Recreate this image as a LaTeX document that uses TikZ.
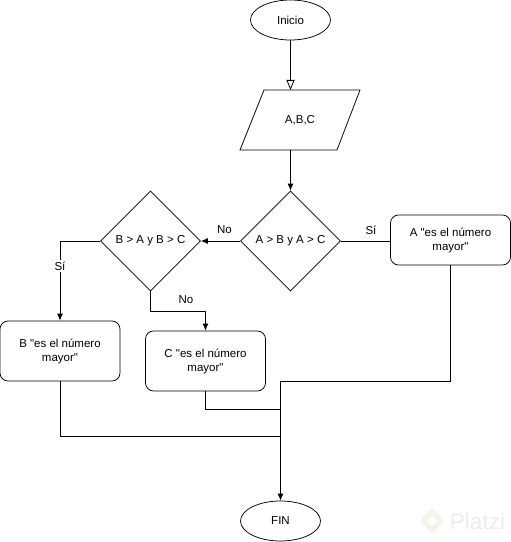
\documentclass[tikz,border=0pt]{standalone}
\usepackage{fontspec}
\setmainfont{Liberation Sans}[Ligatures=TeXOff]
\usetikzlibrary{shapes.geometric,arrows.meta}
\definecolor{wmgreen}{HTML}{F2F6EA}
\definecolor{wmgrey}{HTML}{ECECEC}
\tikzset{
  x=1pt,y=1pt,
  base/.style={draw=black,line width=0.75pt,inner sep=0pt,align=center,font=\fontsize{11.5}{14}\selectfont},
  term/.style={base,ellipse,minimum width=80pt,minimum height=40pt},
  decis/.style={base,diamond,minimum width=100pt,minimum height=100pt},
  proc/.style={base,rounded corners=8pt,minimum width=120pt,minimum height=60pt},
  lbl/.style={font=\fontsize{11.5}{14}\selectfont,inner sep=1.5pt},
  conn/.style={draw=black,line width=0.8pt,-{Latex[length=7pt,width=6pt]}},
  seg/.style={draw=black,line width=0.8pt},
  open/.style={draw=black,line width=0.8pt,-{Triangle[open,length=10pt,width=8pt]}}
}
\begin{document}
\begin{tikzpicture}
\useasboundingbox (0,0) rectangle (511,542);
% watermark
\draw[wmgreen,line width=5pt,line join=round] (434,10) -- (423,21) -- (432,31) -- (441,21) -- (434,14);
\node[text=wmgrey,font=\fontsize{22.5}{26}\selectfont,inner sep=0pt] (wm) at (477.5,21) {Platzi};
% nodes
\node[term] (inicio) at (290.5,522) {Inicio};
\draw[base] (264,452) -- (360,452) -- (337,392) -- (240,392) -- cycle;
\coordinate (abctop) at (290.5,452);
\coordinate (abcbot) at (290.5,392);
\node[font=\fontsize{11.5}{14}\selectfont,inner sep=0pt] (abc) at (300,422) {A,B,C};
\node[decis] (da) at (290.5,301) {A > B y A > C};
\node[decis] (db) at (150.5,301) {B > A y B > C};
\node[proc,minimum height=50pt] (pa) at (450.5,302) {A "es el número\\mayor"};
\node[proc] (pb) at (60,191) {B "es el número\\mayor"};
\node[proc] (pc) at (205.5,181) {C "es el número\\mayor"};
\node[term] (fin) at (280.5,21) {FIN};
% junction coordinates
\coordinate (j1) at (280.5,161);
\coordinate (j2) at (280.5,133);
\coordinate (j3) at (280.5,106);
\coordinate (k1) at (60,301);
\coordinate (k2) at (150.5,231);
\coordinate (k3) at (205.5,231);
\coordinate (k4) at (450.5,161);
\coordinate (k5) at (205.5,133);
\coordinate (k6) at (60,106);
% connectors
\draw[open] (inicio.south) -- (abctop);
\draw[conn] (abcbot) -- (da.north);
\draw[conn] (da.west) -- (db.east);
\node[lbl] (lno1) at (224.5,312) {No};
\draw[seg] (da.east) -- (da.east -| pa.west);
\node[lbl] (lsi1) at (371,312) {Sí};
\draw[conn] (db.west) -- (k1) -- (pb.north);
\node[lbl,fill=white] (lsi2) at (60,276) {Sí};
\draw[conn] (db.south) -- (k2) -- (k3) -- (pc.north);
\node[lbl] (lno2) at (186,242) {No};
\draw[seg] (pa.south) -- (k4) -- (j1);
\draw[seg] (pc.south) -- (k5) -- (j2);
\draw[seg] (pb.south) -- (k6) -- (j3);
\draw[conn] (j1) -- (fin.north);
\end{tikzpicture}
\end{document}
